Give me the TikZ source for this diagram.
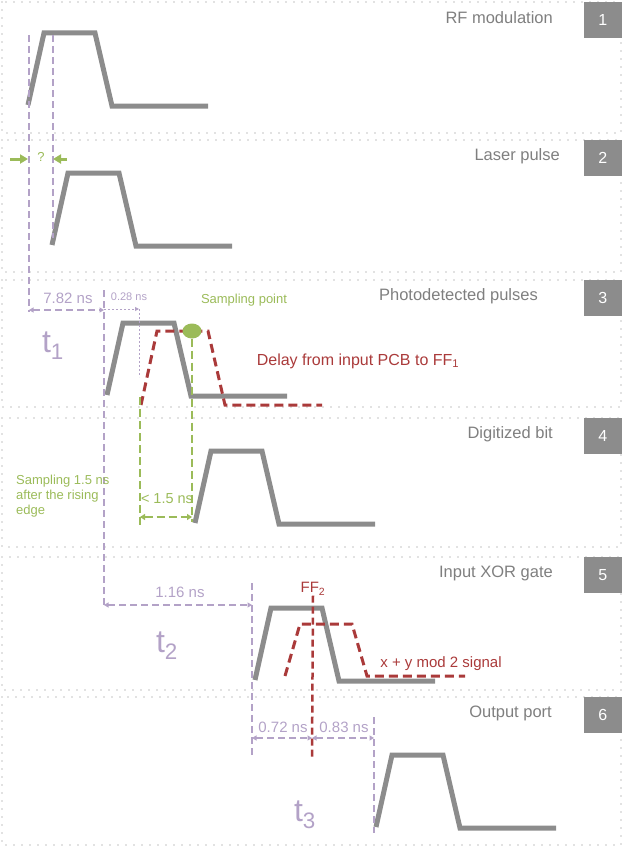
\documentclass[tikz,border=0pt]{standalone}
\usepackage{fontspec}
\setmainfont{Liberation Sans}
\usetikzlibrary{arrows.meta, positioning, shapes.geometric}

\definecolor{pulsegray}{HTML}{8C8C8C}
\definecolor{dotgray}{HTML}{C4C4C4}
\definecolor{titlegray}{HTML}{7F7F7F}
\definecolor{lilac}{HTML}{B3A2C7}
\definecolor{sage}{HTML}{9BBB59}
\definecolor{brick}{HTML}{AA3A3A}

\begin{document}
\begin{tikzpicture}[
        x=1pt, y=-1pt,
        panel/.style={draw=dotgray, line width=1.6pt, line cap=round, dash pattern=on 0pt off 8pt},
        numbox/.style={rectangle, fill=pulsegray, text=white, minimum width=38pt, minimum height=36pt, inner sep=0pt, font=\fontsize{16}{18}\selectfont},
        paneltitle/.style={text=titlegray, inner sep=0pt, font=\fontsize{16.5}{19}\selectfont},
        pulse/.style={draw=pulsegray, line width=5pt},
        redpulse/.style={draw=brick, line width=3pt, dash pattern=on 9pt off 5pt},
        guide/.style={draw=lilac, line width=1.8pt, dash pattern=on 7pt off 4pt},
        thinguide/.style={draw=lilac, line width=1pt, dash pattern=on 2pt off 2pt},
        dim/.style={guide, {Triangle[length=4.5pt,width=5pt]}-{Triangle[length=4.5pt,width=5pt]}},
        dimlabel/.style={text=lilac, inner sep=0pt, font=\fontsize{15}{17}\selectfont},
        tlabel/.style={text=lilac, inner sep=0pt, font=\fontsize{32}{34}\selectfont},
        greenline/.style={draw=sage, line width=2.5pt, dash pattern=on 8pt off 4pt},
        greenarrow/.style={draw=sage, line width=3pt, -{Triangle[length=8pt,width=9pt]}},
        greenlabel/.style={text=sage, inner sep=0pt, font=\fontsize{13}{15}\selectfont},
        redline/.style={draw=brick, line width=2.5pt, dash pattern=on 7pt off 4pt},
        redlabel/.style={text=brick, inner sep=0pt, font=\fontsize{16}{18}\selectfont},
        samplept/.style={ellipse, fill=sage, minimum width=19pt, minimum height=15pt, inner sep=0pt}
    ]
    \useasboundingbox (0,0) rectangle (623,851);

    % panels
    \foreach \ytop/\ybot/\n/\tx/\title in {2/133/1/553/RF modulation, 140/272/2/560/Laser pulse,
        280/407/3/538/Photodetected pulses, 418/547/4/553/Digitized bit,
        557/690/5/553/Input XOR gate, 697/845/6/552/Output port} {
        \draw[panel] (2,\ytop) rectangle (621,\ybot);
        \node[numbox, anchor=north east] (box\n) at (622,\ytop) {\n};
        \node[paneltitle, anchor=east] (title\n) at (\tx,\ytop+16) {\title};
    }

    % pulses
    \foreach \x/\y in {28/105, 52/245, 107/395, 195/523, 255/680, 376/827}
        \draw[pulse] (\x,\y) -- ++(16,-72) -- ++(51,0) -- ++(17,73) -- ++(96,0);
    \draw[redpulse] (141,405) -- ++(16,-74) -- ++(51,0) -- ++(17,74) -- ++(97,0);
    \draw[redpulse] (285,676) -- ++(15,-52) -- ++(52,0) -- ++(15,52) -- ++(98,0);

    % timing guides
    \coordinate (g1top) at (29,35);
    \coordinate (g1bot) at (29,312);
    \coordinate (g2top) at (53,35);
    \coordinate (g2bot) at (53,238);
    \coordinate (g3top) at (104,290);
    \coordinate (g3bot) at (104,607);
    \coordinate (g4top) at (252,583);
    \coordinate (g4bot) at (252,756);
    \coordinate (g5top) at (374,717);
    \coordinate (g5bot) at (374,833);
    \draw[guide] (g1top) -- (g1bot);
    \draw[guide] (g2top) -- (g2bot);
    \draw[guide] (g3top) -- (g3bot);
    \draw[guide] (g4top) -- (g4bot);
    \draw[guide] (g5top) -- (g5bot);

    \coordinate (d1a) at (29,310);
    \coordinate (d1b) at (104,310);
    \coordinate (d2a) at (104,309);
    \coordinate (d2b) at (139,309);
    \coordinate (d2c) at (139,377);
    \coordinate (d3a) at (104,605);
    \coordinate (d3b) at (252,605);
    \coordinate (d4a) at (252,738);
    \coordinate (d4b) at (312,738);
    \coordinate (d4c) at (374,738);
    \draw[dim] (d1a) -- (d1b);
    \draw[thinguide, -{Triangle[length=4pt,width=4pt]}] (d2a) -- (d2b);
    \draw[thinguide] (d2b) -- (d2c);
    \draw[dim] (d3a) -- (d3b);
    \draw[dim] (d4a) -- (d4b);
    \draw[dim] (d4b) -- (d4c);

    \node[dimlabel] (lbl782) at (68,298) {7.82 ns};
    \node[dimlabel, font=\fontsize{11}{13}\selectfont] (lbl028) at (129,297) {0.28 ns};
    \node[dimlabel] (lbl116) at (180,592) {1.16 ns};
    \node[dimlabel] (lbl072) at (283,727) {0.72 ns};
    \node[dimlabel] (lbl083) at (344,727) {0.83 ns};

    \node[tlabel] (t1) at (53,346) {t\textsubscript{1}};
    \node[tlabel] (t2) at (167,646) {t\textsubscript{2}};
    \node[tlabel] (t3) at (305,815) {t\textsubscript{3}};

    % unknown offset
    \coordinate (qa) at (10,159);
    \coordinate (qb) at (28,159);
    \coordinate (qc) at (67,159);
    \coordinate (qd) at (53,159);
    \draw[greenarrow] (qa) -- (qb);
    \draw[greenarrow] (qc) -- (qd);
    \node[greenlabel] (qmark) at (41,157) {?};

    % sampling
    \node[samplept] (sample) at (192,331) {};
    \node[greenlabel] (samplelbl) at (244,300) {Sampling point};
    \coordinate (s1bot) at (192,522);
    \coordinate (s2top) at (140,397);
    \coordinate (s2bot) at (140,527);
    \coordinate (w1) at (140,517);
    \coordinate (w2) at (192,517);
    \draw[greenline] (sample.south) -- (s1bot);
    \draw[greenline] (s2top) -- (s2bot);
    \draw[greenline, {Triangle[length=5pt,width=6pt]}-{Triangle[length=5pt,width=6pt]}] (w1) -- (w2);
    \node[greenlabel, font=\fontsize{14.5}{17}\selectfont] (windowlbl) at (167,499) {< 1.5 ns};
    \node[greenlabel, align=left, anchor=north west] (samplenote) at (16,475) {Sampling 1.5 ns\\after the rising\\edge};

    % flip-flops
    \node[redlabel] (delaylbl) at (358,361) {Delay from input PCB to FF\textsubscript{1}};
    \node[redlabel, font=\fontsize{15}{17}\selectfont] (fflbl) at (313,589) {FF\textsubscript{2}};
    \coordinate (ffbot) at (312,757);
    \draw[redline] (fflbl.south) -- (ffbot);
    \node[redlabel, font=\fontsize{15}{17}\selectfont] (xorlbl) at (441,664) {x + y mod 2 signal};
\end{tikzpicture}
\end{document}
